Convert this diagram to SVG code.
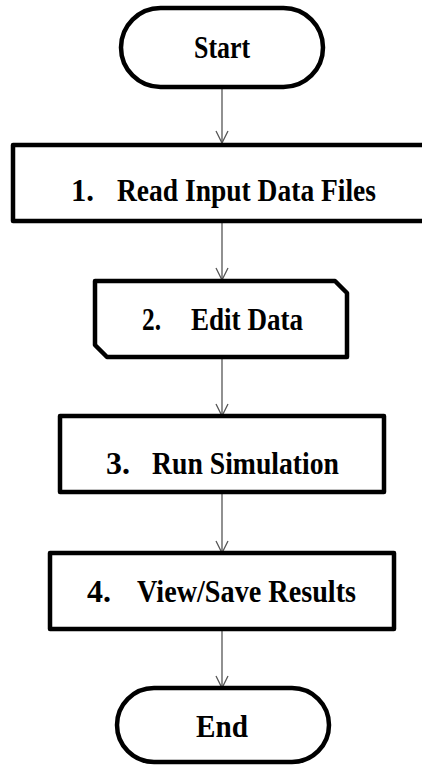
<svg xmlns="http://www.w3.org/2000/svg" width="422" height="765" viewBox="0 0 422 765">
<defs>
<marker id="arr" viewBox="0 0 14 14" refX="13" refY="7" markerWidth="14" markerHeight="14" markerUnits="userSpaceOnUse" orient="auto">
<path d="M1,1 L13,7 L1,13" fill="none" stroke="#555" stroke-width="1.3"/>
</marker>
</defs>
<style>
.shape{fill:#fff;stroke:#000;stroke-width:4.5;stroke-linejoin:round}
.lbl{font-family:"Liberation Serif","Times New Roman",serif;font-weight:bold;font-size:31px;fill:#000}
.conn{stroke:#555;stroke-width:1.3;fill:none}
</style>
<rect width="422" height="765" fill="#fff"/>
<g id="connectors">
<line class="conn" x1="222" y1="87" x2="222" y2="143" marker-end="url(#arr)"/>
<line class="conn" x1="222" y1="222" x2="222" y2="280" marker-end="url(#arr)"/>
<line class="conn" x1="222" y1="358" x2="222" y2="416" marker-end="url(#arr)"/>
<line class="conn" x1="222" y1="492" x2="222" y2="553" marker-end="url(#arr)"/>
<line class="conn" x1="222" y1="629" x2="222" y2="688" marker-end="url(#arr)"/>
</g>
<g id="start">
<rect class="shape" x="121" y="8" width="202" height="79" rx="39.5"/>
<text class="lbl" x="222" y="58" text-anchor="middle" textLength="56" lengthAdjust="spacingAndGlyphs">Start</text>
</g>
<g id="step1">
<rect class="shape" x="13" y="145" width="418" height="76"/>
<text class="lbl" x="71" y="201" textLength="23" lengthAdjust="spacingAndGlyphs">1.</text>
<text class="lbl" x="117" y="201" textLength="259" lengthAdjust="spacingAndGlyphs">Read Input Data Files</text>
</g>
<g id="step2">
<path class="shape" d="M95,281 H335 L347,293 V357 H107 L95,345 Z"/>
<text class="lbl" x="142" y="330" textLength="19" lengthAdjust="spacingAndGlyphs">2.</text>
<text class="lbl" x="191" y="330" textLength="112" lengthAdjust="spacingAndGlyphs">Edit Data</text>
</g>
<g id="step3">
<rect class="shape" x="60" y="416" width="324" height="76"/>
<text class="lbl" x="106" y="474" textLength="24" lengthAdjust="spacingAndGlyphs">3.</text>
<text class="lbl" x="152" y="474" textLength="187" lengthAdjust="spacingAndGlyphs">Run Simulation</text>
</g>
<g id="step4">
<rect class="shape" x="50" y="553" width="344" height="76"/>
<text class="lbl" x="87" y="602" textLength="24" lengthAdjust="spacingAndGlyphs">4.</text>
<text class="lbl" x="137" y="602" textLength="219" lengthAdjust="spacingAndGlyphs">View/Save Results</text>
</g>
<g id="end">
<rect class="shape" x="117" y="688" width="212" height="74" rx="37"/>
<text class="lbl" x="222" y="737" text-anchor="middle" textLength="52" lengthAdjust="spacingAndGlyphs">End</text>
</g>
</svg>
